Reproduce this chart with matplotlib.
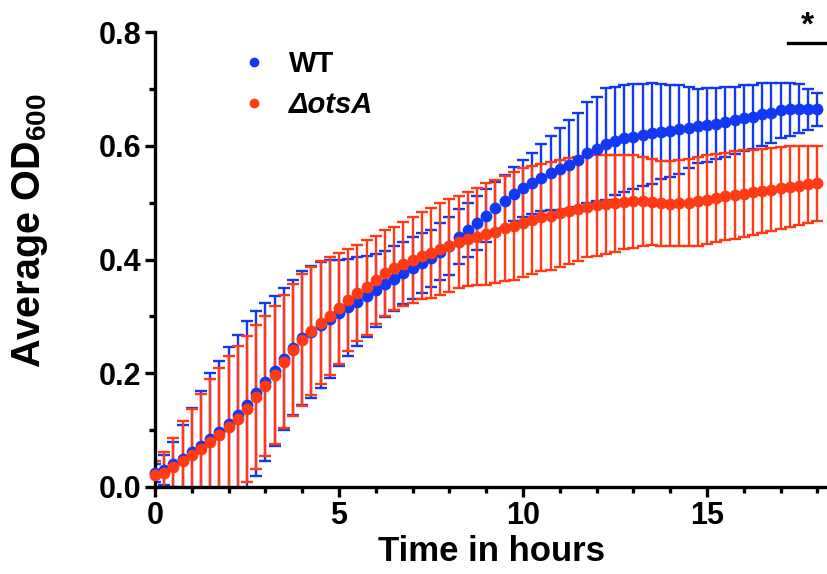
import matplotlib
matplotlib.use("Agg")
import matplotlib.pyplot as plt
from matplotlib.lines import Line2D
import numpy as np

# ---- data (hours, OD600) ----
time_h = [i * 0.25 for i in range(73)]

wt_mean = [0.024, 0.030, 0.040, 0.050, 0.061, 0.072, 0.085, 0.097, 0.111, 0.127,
           0.145, 0.165, 0.185, 0.204, 0.225, 0.245, 0.262, 0.273, 0.285, 0.295,
           0.306, 0.316, 0.326, 0.335, 0.346, 0.357, 0.366, 0.376, 0.385, 0.394,
           0.402, 0.414, 0.423, 0.440, 0.452, 0.464, 0.477, 0.490, 0.502, 0.515,
           0.525, 0.534, 0.544, 0.552, 0.559, 0.567, 0.575, 0.588, 0.594, 0.603,
           0.609, 0.613, 0.616, 0.619, 0.622, 0.625, 0.626, 0.629, 0.632, 0.634,
           0.636, 0.639, 0.642, 0.645, 0.648, 0.651, 0.655, 0.658, 0.662, 0.664,
           0.665, 0.664, 0.664]
wt_sd = [0.016, 0.026, 0.040, 0.059, 0.078, 0.097, 0.116, 0.125, 0.135, 0.141,
         0.146, 0.145, 0.139, 0.132, 0.125, 0.119, 0.117, 0.116, 0.111, 0.104,
         0.094, 0.085, 0.078, 0.071, 0.064, 0.058, 0.057, 0.054, 0.054, 0.053,
         0.050, 0.050, 0.051, 0.048, 0.048, 0.047, 0.047, 0.047, 0.047, 0.048,
         0.050, 0.054, 0.059, 0.065, 0.073, 0.078, 0.082, 0.089, 0.092, 0.098,
         0.095, 0.094, 0.092, 0.089, 0.089, 0.083, 0.081, 0.078, 0.071, 0.065,
         0.065, 0.063, 0.061, 0.059, 0.058, 0.056, 0.055, 0.053, 0.049, 0.047,
         0.043, 0.036, 0.029]

ots_mean = [0.021, 0.025, 0.036, 0.046, 0.056, 0.067, 0.080, 0.091, 0.105, 0.120,
            0.137, 0.158, 0.178, 0.197, 0.220, 0.241, 0.258, 0.274, 0.289, 0.301,
            0.314, 0.329, 0.341, 0.351, 0.364, 0.376, 0.385, 0.392, 0.399, 0.407,
            0.412, 0.418, 0.424, 0.431, 0.436, 0.440, 0.445, 0.449, 0.455, 0.459,
            0.465, 0.469, 0.474, 0.477, 0.481, 0.485, 0.489, 0.493, 0.495, 0.497,
            0.499, 0.501, 0.502, 0.502, 0.501, 0.499, 0.498, 0.499, 0.500, 0.502,
            0.505, 0.508, 0.511, 0.513, 0.516, 0.518, 0.521, 0.523, 0.525, 0.528,
            0.530, 0.532, 0.534]
ots_sd = [0.025, 0.037, 0.051, 0.070, 0.082, 0.097, 0.110, 0.119, 0.125, 0.128,
          0.129, 0.126, 0.123, 0.122, 0.117, 0.116, 0.116, 0.113, 0.108, 0.104,
          0.098, 0.089, 0.084, 0.083, 0.077, 0.075, 0.073, 0.074, 0.076, 0.077,
          0.079, 0.081, 0.082, 0.081, 0.082, 0.085, 0.089, 0.091, 0.092, 0.095,
          0.095, 0.095, 0.094, 0.095, 0.094, 0.093, 0.092, 0.089, 0.088, 0.087,
          0.085, 0.083, 0.081, 0.078, 0.076, 0.075, 0.075, 0.076, 0.077, 0.078,
          0.078, 0.078, 0.077, 0.077, 0.076, 0.075, 0.074, 0.073, 0.072, 0.071,
          0.069, 0.068, 0.066]

series_labels = ["WT", "\u0394otsA"]
x_ticks = [0, 5, 10, 15]
y_ticks = [0.0, 0.2, 0.4, 0.6, 0.8]
sig_span = [17.2, 18.24]
sig_y = 0.781

BLUE = "#1238F4"
RED = "#FF3A14"

plt.rcParams['font.family'] = ['Liberation Sans', 'DejaVu Sans']
plt.rcParams['font.weight'] = 'bold'
plt.rcParams['mathtext.fontset'] = 'custom'
plt.rcParams['mathtext.rm'] = 'Liberation Sans:bold'
plt.rcParams['mathtext.bf'] = 'Liberation Sans:bold'
plt.rcParams['mathtext.default'] = 'bf'

fig = plt.figure(figsize=(8.27, 5.74), dpi=100)
ax = fig.add_axes([155/827, 1-487/574, 1-155/827, (487-32)/574])

for mean, sd, col in [(wt_mean, wt_sd, BLUE), (ots_mean, ots_sd, RED)]:
    ax.errorbar(time_h, mean, yerr=sd, fmt='none', ecolor=col, elinewidth=1.7,
                capsize=4.5, capthick=1.7, zorder=2)
for mean, col in [(wt_mean, BLUE), (ots_mean, RED)]:
    ax.plot(time_h, mean, 'o', color=col, markersize=8.5, markeredgewidth=0,
            clip_on=False, zorder=3)

ax.set_xlim(0, 18.26)
ax.set_ylim(0, 0.8)
ax.set_xticks(x_ticks)
ax.set_yticks(y_ticks)
ax.set_yticklabels([f"{v:.1f}" for v in y_ticks])
ax.set_xticks(np.arange(0, 19, 1), minor=True)
ax.set_yticks(np.arange(0, 0.81, 0.1), minor=True)
for s in ['top', 'right']:
    ax.spines[s].set_visible(False)
for s in ['left', 'bottom']:
    ax.spines[s].set_linewidth(2.4)
ax.tick_params(which='major', length=7, width=2.4, labelsize=22, pad=3)
ax.tick_params(which='minor', length=4.5, width=2.4)
ax.set_xlabel("Time in hours", fontsize=25, fontweight='bold', labelpad=3)
ax.set_ylabel(r"Average OD$_{600}$", fontsize=28.5, fontweight='bold')
ax.yaxis.set_label_coords(-0.186, 0.563)
ax.yaxis.label.set_va('center')

# significance bar
ax.plot(sig_span, [sig_y, sig_y], color='black', lw=2.4, clip_on=False)
ax.text(sum(sig_span)/2, sig_y + 0.002, "*", ha='center', va='bottom',
        fontsize=24, fontweight='bold', clip_on=False)

handles = [Line2D([], [], marker='o', ls='none', color=BLUE, markersize=7, markeredgewidth=0),
           Line2D([], [], marker='o', ls='none', color=RED, markersize=7, markeredgewidth=0)]
leg = ax.legend(handles, series_labels, loc='upper left', frameon=False,
                bbox_to_anchor=(245/827, 1-50/574), bbox_transform=fig.transFigure,
                prop={'size': 21, 'weight': 'bold'}, handlelength=0.6,
                handletextpad=0.9, labelspacing=0.45, borderpad=0, borderaxespad=0)
leg.get_texts()[1].set_style('italic')

fig.savefig("out.png", dpi=100)
